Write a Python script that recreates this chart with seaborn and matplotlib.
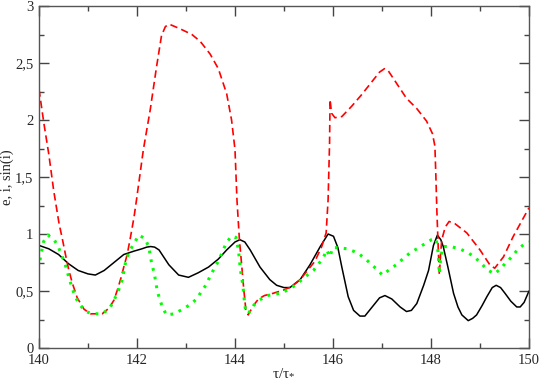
import matplotlib
matplotlib.use("Agg")
import matplotlib.pyplot as plt
import seaborn as sns
import pandas as pd
from matplotlib.ticker import MultipleLocator, FixedLocator, FixedFormatter

# ---- data ----
black_t = [140.0, 140.2, 140.4, 140.6, 140.8, 141.0, 141.15, 141.33, 141.53, 141.73, 141.94, 142.1,
           142.2, 142.28, 142.36, 142.45, 142.65, 142.85, 143.05, 143.25, 143.46, 143.66, 143.83, 144.0, 144.1, 144.2,
           144.31, 144.51, 144.71, 144.85, 145.0, 145.12, 145.33, 145.53, 145.74, 145.9, 146.01, 146.1,
           146.18, 146.31, 146.42, 146.55, 146.65, 146.8, 146.95, 147.06, 147.2, 147.37, 147.5, 147.6,
           147.71, 147.85, 147.95, 148.05, 148.13, 148.2, 148.25, 148.35, 148.46, 148.55, 148.63, 148.76,
           148.85, 148.93, 149.04, 149.14, 149.25, 149.33, 149.42, 149.51, 149.63, 149.75, 149.82, 149.9, 150.0]
black_v = [0.90, 0.87, 0.82, 0.74, 0.68, 0.65, 0.64, 0.68, 0.75, 0.82, 0.85, 0.87,
           0.885, 0.89, 0.885, 0.86, 0.73, 0.64, 0.62, 0.66, 0.71, 0.78, 0.86, 0.93, 0.95, 0.93,
           0.86, 0.71, 0.60, 0.55, 0.53, 0.53, 0.60, 0.73, 0.89, 1.00, 0.98, 0.88,
           0.71, 0.45, 0.33, 0.28, 0.28, 0.36, 0.44, 0.46, 0.43, 0.36, 0.32, 0.33,
           0.39, 0.55, 0.68, 0.90, 0.99, 0.95, 0.89, 0.70, 0.48, 0.36, 0.29, 0.24,
           0.26, 0.29, 0.37, 0.45, 0.53, 0.55, 0.53, 0.48, 0.41, 0.36, 0.36, 0.40, 0.50]

red_t = [140.0, 140.1, 140.2, 140.3, 140.41, 140.48, 140.54, 140.61, 140.68, 140.78, 140.92, 141.05,
         141.29, 141.43, 141.53, 141.6, 141.67, 141.73, 141.8, 141.87, 141.94, 141.99, 142.13, 142.27,
         142.4, 142.5, 142.58, 142.66, 142.88, 143.12, 143.29, 143.49, 143.66, 143.83, 143.93, 144.0,
         144.04, 144.09, 144.14, 144.18, 144.22, 144.27, 144.37, 144.48, 144.6, 144.78, 145.0, 145.16,
         145.33, 145.46, 145.63, 145.77, 145.86, 145.9, 145.93, 145.94, 145.97, 146.04, 146.18, 146.38,
         146.58, 146.82, 146.95, 147.05, 147.13, 147.3, 147.5, 147.71, 147.91, 148.03, 148.08, 148.1,
         148.12, 148.15, 148.17, 148.2, 148.22, 148.29, 148.37, 148.49, 148.73, 149.0, 149.2, 149.3,
         149.48, 149.68, 150.0]
red_v = [2.27, 1.97, 1.70, 1.38, 1.09, 0.95, 0.82, 0.68, 0.57, 0.44, 0.34, 0.30,
         0.30, 0.35, 0.42, 0.51, 0.61, 0.71, 0.82, 0.98, 1.15, 1.30, 1.74, 2.09,
         2.47, 2.74, 2.82, 2.84, 2.80, 2.75, 2.69, 2.58, 2.45, 2.23, 2.00, 1.74,
         1.30, 0.95, 0.71, 0.51, 0.34, 0.29, 0.37, 0.43, 0.46, 0.48, 0.51, 0.54,
         0.60, 0.67, 0.76, 0.89, 1.01, 1.30, 1.80, 2.18, 2.06, 2.02, 2.03, 2.12,
         2.22, 2.35, 2.42, 2.45, 2.43, 2.32, 2.19, 2.10, 1.99, 1.88, 1.77, 1.50,
         1.20, 0.85, 0.64, 0.85, 0.95, 1.06, 1.11, 1.09, 1.01, 0.86, 0.73, 0.70,
         0.80, 0.98, 1.23]

green_t = [140.02, 140.09, 140.18, 140.31, 140.39, 140.46, 140.53, 140.63, 140.68, 140.75, 140.83, 140.95,
           141.1, 141.28, 141.43, 141.51, 141.61, 141.7, 141.78, 141.85, 141.94, 142.04, 142.16, 142.24,
           142.3, 142.35, 142.41, 142.46, 142.52, 142.6, 142.76, 142.93, 143.08, 143.22, 143.32, 143.42,
           143.49, 143.58, 143.66, 143.73, 143.81, 143.92, 144.02, 144.07, 144.1, 144.12, 144.15, 144.17,
           144.19, 144.21, 144.27, 144.37, 144.5, 144.65, 144.82, 144.99, 145.16, 145.31, 145.45, 145.6,
           145.71, 145.8, 145.87, 145.94, 145.99, 146.08, 146.3, 146.52, 146.69, 146.82, 147.01, 147.16,
           147.29, 147.42, 147.56, 147.71, 147.86, 148.01, 148.1, 148.13, 148.15, 148.17, 148.2, 148.25,
           148.4, 148.58, 148.74, 148.88, 149.01, 149.14, 149.29, 149.41, 149.53, 149.65, 149.76, 149.9, 150.0]
green_v = [0.77, 0.93, 0.99, 0.95, 0.89, 0.82, 0.74, 0.59, 0.52, 0.44, 0.38, 0.32,
           0.30, 0.30, 0.34, 0.40, 0.49, 0.60, 0.78, 0.85, 0.92, 0.99, 0.96, 0.89,
           0.74, 0.66, 0.51, 0.43, 0.36, 0.29, 0.30, 0.34, 0.38, 0.43, 0.50, 0.56,
           0.63, 0.70, 0.76, 0.83, 0.91, 0.98, 0.97, 0.86, 0.73, 0.66, 0.58, 0.51,
           0.42, 0.35, 0.30, 0.37, 0.42, 0.46, 0.47, 0.49, 0.53, 0.58, 0.63, 0.68,
           0.74, 0.79, 0.86, 0.80, 0.88, 0.88, 0.87, 0.83, 0.77, 0.72, 0.64, 0.69,
           0.73, 0.78, 0.83, 0.87, 0.91, 0.95, 0.96, 0.89, 0.82, 0.65, 0.80, 0.89,
           0.89, 0.87, 0.84, 0.80, 0.75, 0.69, 0.65, 0.69, 0.75, 0.80, 0.86, 0.91, 0.93]

x_ticks = [140, 142, 144, 146, 148, 150]
x_ticklabels = ["140", "142", "144", "146", "148", "150"]
y_ticks = [0, 0.5, 1, 1.5, 2, 2.5, 3]
y_ticklabels = ["0", "0,5", "1", "1,5", "2", "2,5", "3"]
x_label = "τ/τ$_{*}$"
y_label = "e, i, sin(i)"

# ---- style ----
sns.set_style("ticks")
plt.rcParams["font.family"] = ["Liberation Serif", "DejaVu Serif"]
plt.rcParams["mathtext.default"] = "regular"

fig = plt.figure(figsize=(5.4, 3.83), dpi=100)
ax = fig.add_axes([39 / 540, 35 / 383, 490 / 540, 342 / 383])

df_b = pd.DataFrame({"t": black_t, "v": black_v})
df_r = pd.DataFrame({"t": red_t, "v": red_v})
df_g = pd.DataFrame({"t": green_t, "v": green_v})

sns.lineplot(data=df_b, x="t", y="v", ax=ax, color="black", linewidth=1.1,
             estimator=None, sort=False)
sns.lineplot(data=df_r, x="t", y="v", ax=ax, color="#ff0000", linewidth=1.2,
             estimator=None, sort=False)
ax.lines[-1].set_dashes((4.5, 2.5))
sns.lineplot(data=df_g, x="t", y="v", ax=ax, color="#00ff00", linewidth=2.2,
             estimator=None, sort=False)
ax.lines[-1].set_dashes((0.9, 2.0))

ax.set_xlim(140, 150)
ax.set_ylim(0, 3)
ax.xaxis.set_major_locator(FixedLocator(x_ticks))
ax.xaxis.set_major_formatter(FixedFormatter(x_ticklabels))
ax.yaxis.set_major_locator(FixedLocator(y_ticks))
ax.yaxis.set_major_formatter(FixedFormatter(y_ticklabels))
ax.xaxis.set_minor_locator(MultipleLocator(1))
ax.yaxis.set_minor_locator(MultipleLocator(0.25))

ax.tick_params(which="both", direction="in", top=True, right=True, color="#444444",
               labelsize=10.5, width=1.0)
ax.tick_params(which="major", length=7, pad=4)
ax.tick_params(which="minor", length=3.6)
for s in ax.spines.values():
    s.set_color("#555555")
    s.set_linewidth(1.0)

ax.set_xlabel(x_label, fontsize=11)
ax.set_ylabel(y_label, fontsize=10.5)
ax.xaxis.set_label_coords(0.5, -0.052)
ax.yaxis.set_label_coords(-0.052, 0.5)

fig.savefig("out.png", dpi=100)
